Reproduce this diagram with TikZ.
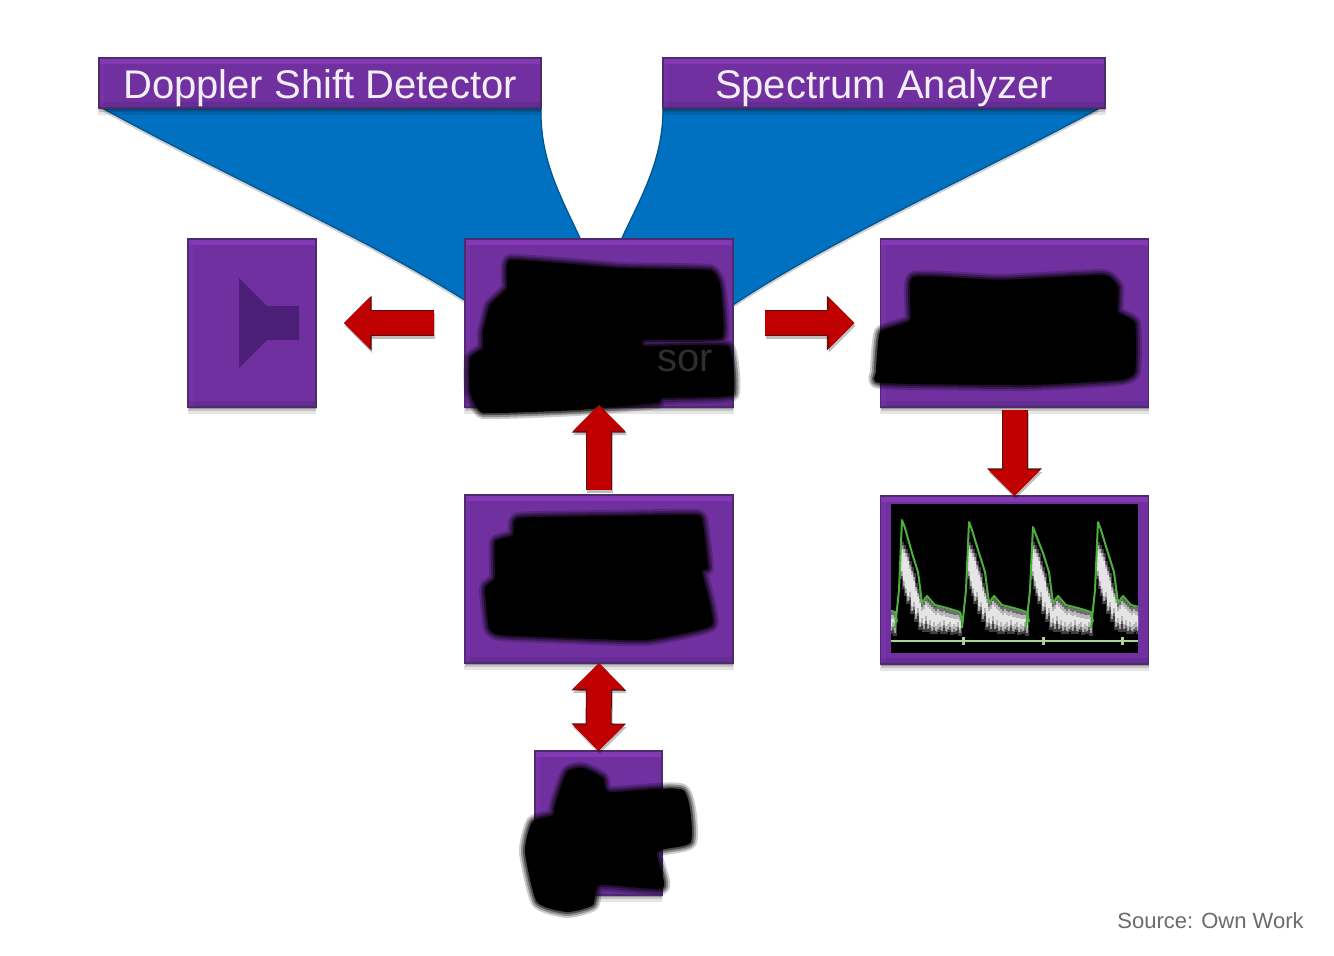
\documentclass[tikz,border=0pt]{standalone}
\usepackage{fontspec}
\setmainfont{Liberation Sans}
\usetikzlibrary{arrows.meta,shadows,positioning}
\definecolor{pp}{HTML}{7030A0}
\definecolor{ppdark}{HTML}{4E2A6E}
\definecolor{pplight}{HTML}{8438B4}
\definecolor{ppshade}{HTML}{5F2A8C}
\definecolor{bl}{HTML}{0070C0}
\definecolor{rd}{HTML}{C00000}
\definecolor{rddark}{HTML}{5E0E0E}
\definecolor{spk}{HTML}{4B1F77}
\definecolor{grn}{HTML}{4DB03C}
\definecolor{basegreen}{HTML}{A6D49A}
\tikzset{
  softshadow/.style={
    general shadow={fill=black,opacity=.10,shadow yshift=-3.5pt,shadow xshift=0pt,shadow scale=1.005},
    general shadow={fill=black,opacity=.14,shadow yshift=-2.2pt,shadow xshift=0pt},
    general shadow={fill=black,opacity=.22,shadow yshift=-1pt,shadow xshift=.4pt}},
  panel/.style={rectangle,inner sep=0pt,outer sep=0pt,fill=pp,draw=ppdark,line width=.8pt,softshadow,
    path picture={
      \fill[pplight] (path picture bounding box.north west) rectangle ([yshift=-3pt]path picture bounding box.north east);
      \fill[ppshade,opacity=.6] (path picture bounding box.south west) rectangle ([yshift=3pt]path picture bounding box.south east);
      \fill[pplight,opacity=.35] (path picture bounding box.north west) rectangle ([xshift=2.5pt]path picture bounding box.south west);
    }},
  titlebox/.style={panel,minimum width=221pt,minimum height=25pt,text=white!92!pp,text height=15pt,text depth=0pt,font=\fontsize{20}{22}\selectfont},
  bigbox/.style={panel,minimum width=134pt,minimum height=84pt},
  blockarrow/.style={rd,line width=12pt,-{Triangle[length=13pt,width=25pt]},
    preaction={draw=black,opacity=.25,line width=13pt,transform canvas={shift={(.5pt,-1.5pt)}},-{Triangle[length=13.5pt,width=26pt]}},
    preaction={draw=rddark,line width=13pt,-{Triangle[length=13.8pt,width=26.5pt]}}},
  blockboth/.style={rd,line width=12pt,{Triangle[length=13pt,width=25pt]}-{Triangle[length=13pt,width=25pt]},
    preaction={draw=black,opacity=.25,line width=13pt,transform canvas={shift={(.5pt,-1.5pt)}},{Triangle[length=13.5pt,width=26pt]}-{Triangle[length=13.5pt,width=26pt]}},
    preaction={draw=rddark,line width=13pt,{Triangle[length=13.8pt,width=26.5pt]}-{Triangle[length=13.8pt,width=26.5pt]}}},
  bluefan/.style={fill=bl,draw=bl!75!black,line width=.6pt,
    general shadow={fill=black,opacity=.18,shadow yshift=-1.5pt}},
}
% a blurred black marker stroke: #1 is a closed path
\newcommand{\markerblot}[1]{%
  \draw[black,opacity=.2,line width=6pt,line join=round] #1;
  \draw[black,opacity=.3,line width=4pt,line join=round] #1;
  \draw[black,opacity=.45,line width=2pt,line join=round] #1;
  \fill[black] #1;
}
\begin{document}
\begin{tikzpicture}[x=.5pt,y=-.5pt]
\useasboundingbox (0,0) rectangle (1334,955);
\fill[white] (0,0) rectangle (1334,955);

% blue fans
\path[bluefan] (102,108) .. controls (230,178) and (370,240) .. (466,301) -- (560,300) -- (581,240)
  .. controls (560,195) and (540,160) .. (541,108) -- cycle;
\path[bluefan] (1100,108) .. controls (970,178) and (830,240) .. (733,305) -- (640,300) -- (621,240)
  .. controls (642,195) and (663,160) .. (663,108) -- cycle;

% panels
\node[titlebox] (doppler) at (320,83) {Doppler Shift Detector};
\node[titlebox] (spectrum) at (884,83) {Spectrum Analyzer};
\node[panel,minimum width=64pt,minimum height=84pt] (speaker) at (252,323) {};
\node[bigbox] (signal) at (599,323) {};
\node[bigbox] (freq) at (1014.5,323) {};
\node[bigbox] (mid) at (599,579) {};
\node[bigbox] (display) at (1014.5,580) {};
\node[panel,minimum width=63.5pt,minimum height=72pt] (probe) at (598.5,823) {};

% speaker glyph
\fill[spk] (239,278) -- (267,306) -- (299,306) -- (299,340) -- (267,340) -- (239,368) -- cycle;

% spectral display
\fill[black] (891,504) rectangle (1138,653);
\begin{scope}
  \clip (891,504) rectangle (1138,653);
  \foreach \px/\py in {837/524,902/520,969/522,1033/527,1098/522}{
    \begin{scope}[xshift=\px*.5pt]
      \foreach \sx/\st/\sb in {0/545/575,2/548/585,4/552/592,6/556/600,8/564/596,10/570/610,12/576/606,14/586/618,16/592/612,18/598/626,20/606/622,22/604/628,24/600/620,26/602/628,28/604/624,30/606/630,32/608/626,34/610/630,36/608/628,38/610/626,40/611/630,42/610/624,44/612/630,46/612/628,48/613/626,50/613/631,52/614/628,54/614/630,56/614/626,58/616/632}{
        \draw[white,opacity=.25,line width=1.6pt] (\sx,\st-3) -- (\sx,\sb+4);
        \draw[white,opacity=.5,line width=1.2pt] (\sx,\st+1) -- (\sx,\sb+1);
        \draw[white,opacity=.65,line width=1pt] (\sx,\st+5) -- (\sx,\sb-4);
      }
      \draw[grn,line width=1pt,line join=round]
        (-7,628) -- (-3,590) -- (0,\py) -- (3,\py+8) -- (10,553) -- (16,572) -- (20,603) -- (25,596)
        -- (33,605) -- (45,608) -- (58,612) -- (60,622);
    \end{scope}
  }
  \draw[basegreen,line width=1pt] (891,641) -- (1138,641);
  \foreach \tx in {963,1043,1122}{
    \draw[basegreen,line width=1.5pt] (\tx,637) -- (\tx,645);
  }
\end{scope}

% marker blots over the panels
\markerblot{plot[smooth cycle,tension=.2] coordinates {(510,260) (620,268) (710,270) (720,285) (722,338) (645,340) (645,346) (728,346) (733,395) (663,398) (657,403) (577,410) (483,413) (470,392) (470,358) (483,348) (483,332) (490,305) (507,288)}}
\node[font=\fontsize{20}{22}\selectfont,text=black!82!white,inner sep=0pt,anchor=base west] (sortext) at (657,371) {sor};
\markerblot{plot[smooth cycle,tension=.25] coordinates {(913,277) (1000,280) (1103,275) (1118,287) (1118,312) (1135,323) (1135,372) (1120,380) (1027,385) (880,383) (876,372) (880,332) (910,320)}}
\markerblot{plot[smooth cycle,tension=.25] coordinates {(518,518) (610,516) (697,515) (703,525) (708,568) (702,572) (712,625) (647,640) (570,638) (500,635) (489,628) (485,588) (495,578) (495,542) (513,535)}}
\markerblot{plot[smooth cycle,tension=.35] coordinates {(555,805) (567,772) (583,768) (603,778) (610,792) (683,790) (691,842) (657,852) (663,888) (600,885) (593,905) (567,912) (537,902) (525,852) (532,822) (553,815)}}

% connectors
\draw[blockarrow,shorten <=15.5pt,shorten >=14pt] (signal.west) -- (speaker.east);
\draw[blockarrow,shorten <=16pt,shorten >=13pt] (signal.east) -- (freq.west);
\draw[blockarrow,shorten <=2.5pt,shorten >=-1pt] (mid.north) -- (signal.south);
\draw[blockarrow,shorten <=1.5pt] (freq.south) -- (display.north);
\draw[blockboth] (mid.south) -- (probe.north);

\node[text=black!58!white,font=\fontsize{11}{13}\selectfont,inner sep=0pt] (source) at (1210.5,921) {Source: Own Work};
\end{tikzpicture}
\end{document}
